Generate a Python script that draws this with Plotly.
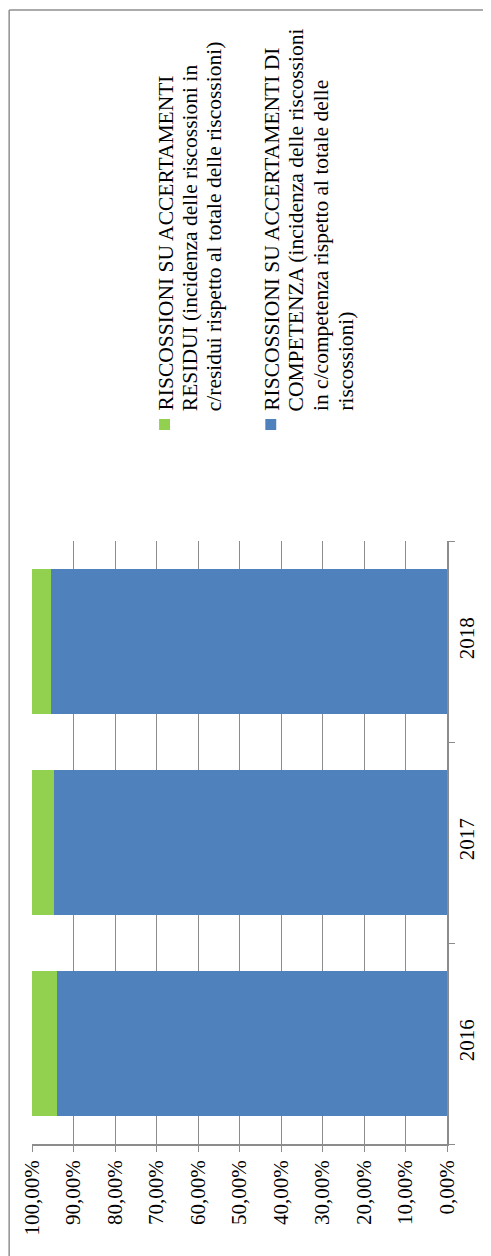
import plotly.graph_objects as go

# ---- data ----
years = ["2016", "2017", "2018"]
competenza = [0.940, 0.946, 0.955]   # RISCOSSIONI SU ACCERTAMENTI DI COMPETENZA
residui = [0.060, 0.054, 0.045]      # RISCOSSIONI SU ACCERTAMENTI RESIDUI
tick_values = [0, 0.1, 0.2, 0.3, 0.4, 0.5, 0.6, 0.7, 0.8, 0.9, 1.0]

legend_residui = ["RISCOSSIONI SU ACCERTAMENTI",
                  "RESIDUI (incidenza delle riscossioni in",
                  "c/residui rispetto al totale delle riscossioni)"]
legend_competenza = ["RISCOSSIONI SU ACCERTAMENTI DI",
                     "COMPETENZA (incidenza delle riscossioni",
                     "in c/competenza rispetto al totale delle",
                     "riscossioni)"]

BLUE = "#4F81BD"
GREEN = "#92D050"
GRID = "#8C8C8C"
FONT = "Liberation Serif"

OFF = 8  # browser body margin
W, H = 491 - OFF, 1256 - OFF
L, R, T, B = 31 - OFF, 449 - OFF, 541 - OFF, 1144 - OFF  # plot area in figure pixels


def px(x):
    """reference-screenshot x pixel -> paper coordinate"""
    return (x - OFF - L) / (R - L)


def py(y):
    """reference-screenshot y pixel -> paper coordinate"""
    return (B - (y - OFF)) / (B - T)


fig = go.Figure()
fig.add_trace(go.Bar(y=years, x=competenza, orientation="h", marker_color=BLUE,
                     marker_line_width=0, name=" ".join(legend_competenza)))
fig.add_trace(go.Bar(y=years, x=residui, orientation="h", marker_color=GREEN,
                     marker_line_width=0, name=" ".join(legend_residui)))

shapes = [
    # outer chart border (top & left visible)
    dict(type="line", xref="paper", yref="paper", x0=px(8), x1=px(600), y0=py(10), y1=py(10),
         line=dict(color="#8F8F8F", width=1.5)),
    dict(type="line", xref="paper", yref="paper", x0=px(8), x1=px(8), y0=py(10), y1=py(1400),
         line=dict(color="#8F8F8F", width=1.5)),
    # legend swatches
    dict(type="rect", xref="paper", yref="paper", x0=px(159), x1=px(170), y0=py(430), y1=py(419),
         fillcolor=GREEN, line_width=0),
    dict(type="rect", xref="paper", yref="paper", x0=px(266), x1=px(277), y0=py(430), y1=py(419),
         fillcolor=BLUE, line_width=0),
]

annotations = []
for lines, x_first in ((legend_residui, 165), (legend_competenza, 272)):
    for i, line in enumerate(lines):
        annotations.append(dict(
            text=line, xref="paper", yref="paper", x=px(x_first + 24.8 * i), y=py(413),
            xanchor="center", yanchor="bottom", textangle=-90, showarrow=False,
            font=dict(family=FONT, size=21.5, color="black")))

fig.update_layout(
    width=W, height=H,
    margin=dict(l=L, r=W - R, t=T, b=H - B, pad=0),
    barmode="stack", bargap=0.28,
    plot_bgcolor="white", paper_bgcolor="white",
    showlegend=False,
    separators=",.",
    font=dict(family=FONT, size=21, color="black"),
    shapes=shapes,
    annotations=annotations,
    xaxis=dict(range=[1, 0], tickvals=tick_values, tickformat=".2%", tickangle=-90,
               showgrid=True, gridcolor=GRID, gridwidth=1,
               showline=True, linecolor=GRID, linewidth=1.5,
               ticks="outside", ticklen=6, tickcolor=GRID,
               zeroline=False, fixedrange=True),
    yaxis=dict(side="right", tickangle=-90, showline=True, linecolor=GRID, linewidth=1.5,
               ticks="outside", ticklen=6, tickcolor=GRID, tickson="boundaries",
               showgrid=False, zeroline=False, fixedrange=True),
)

fig.write_html("out.html", config={"displayModeBar": False})
